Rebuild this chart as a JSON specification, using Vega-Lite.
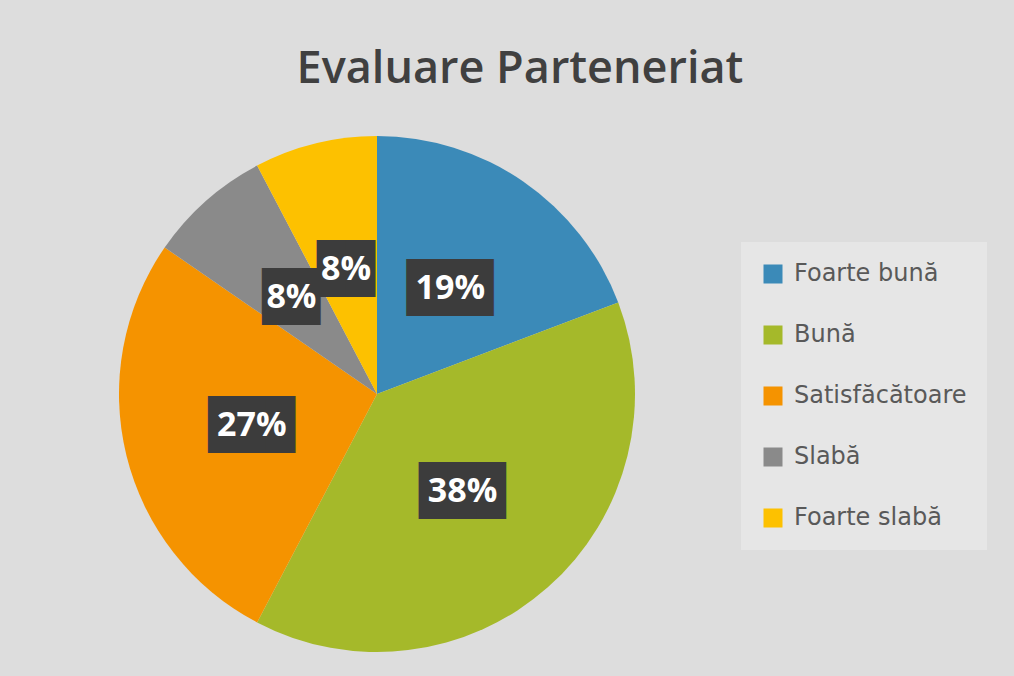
{
  "$schema": "https://vega.github.io/schema/vega-lite/v6.json",
  "autosize": {"type": "none"},
  "width": 740,
  "height": 560,
  "padding": {"left": 7, "top": 114, "right": 267, "bottom": 2},
  "background": "#dddddd",
  "config": {"view": {"stroke": null}},
  "title": {
    "text": "Evaluare Parteneriat",
    "font": "Open Sans",
    "fontSize": 45,
    "fontWeight": 600,
    "color": "#404040",
    "anchor": "middle",
    "frame": "group",
    "baseline": "alphabetic",
    "offset": 19,
    "dx": 143,
    "dy": 33
  },
  "data": {
    "values": [
      {"i": 1, "cat": "Foarte bună", "n": 5},
      {"i": 2, "cat": "Bună", "n": 10},
      {"i": 3, "cat": "Satisfăcătoare", "n": 7},
      {"i": 4, "cat": "Slabă", "n": 2},
      {"i": 5, "cat": "Foarte slabă", "n": 2}
    ]
  },
  "transform": [
    {"joinaggregate": [{"op": "sum", "field": "n", "as": "total"}]},
    {"calculate": "datum.n / datum.total", "as": "share"},
    {"calculate": "replace(format(datum.share, '.0%'), regexp('.', 'g'), '█')", "as": "box"}
  ],
  "encoding": {
    "theta": {"field": "n", "type": "quantitative", "stack": true},
    "order": {"field": "i", "type": "quantitative"},
    "color": {
      "field": "cat",
      "type": "nominal",
      "sort": ["Foarte bună", "Bună", "Satisfăcătoare", "Slabă", "Foarte slabă"],
      "scale": {
        "domain": ["Foarte bună", "Bună", "Satisfăcătoare", "Slabă", "Foarte slabă"],
        "range": ["#3b8ab8", "#a5b92a", "#f59300", "#8a8a8a", "#fdc100"]
      },
      "legend": {
        "title": null,
        "orient": "none",
        "legendX": 734,
        "legendY": 128,
        "padding": 20,
        "fillColor": "#e6e6e6",
        "symbolType": "square",
        "symbolSize": 361,
        "symbolStrokeWidth": 0,
        "symbolOpacity": 1,
        "labelFont": "DejaVu Sans",
        "labelFontSize": 24,
        "labelColor": "#595959",
        "labelOffset": 9,
        "labelLimit": 400,
        "rowPadding": 37
      }
    }
  },
  "layer": [
    {"mark": {"type": "arc", "outerRadius": 258, "stroke": null}},
    {
      "mark": {"type": "text", "radius": 129, "font": "DejaVu Sans Mono", "fontSize": 48, "baseline": "middle", "align": "center", "dy": 2},
      "encoding": {"text": {"field": "box"}, "color": {"value": "#3c3c3c"}}
    },
    {
      "mark": {"type": "text", "radius": 129, "font": "Open Sans", "fontSize": 34, "fontWeight": "bold", "baseline": "middle", "align": "center", "dy": 1},
      "encoding": {"text": {"field": "share", "format": ".0%"}, "color": {"value": "#ffffff"}}
    }
  ]
}
